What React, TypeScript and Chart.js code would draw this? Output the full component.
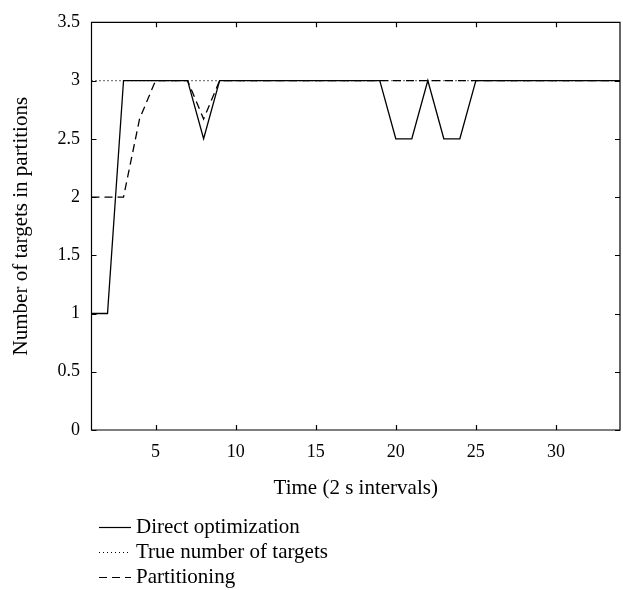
import React, { useEffect, useRef } from "react";
import { Chart, registerables } from "chart.js";

Chart.register(...registerables);

// Time steps (2 s intervals)
const timeSteps = [
  1, 2, 3, 4, 5, 6, 7, 8, 9, 10, 11, 12, 13, 14, 15, 16, 17,
  18, 19, 20, 21, 22, 23, 24, 25, 26, 27, 28, 29, 30, 31, 32, 33, 34,
];

const directOptimization = [
  1, 1, 3, 3, 3, 3, 3, 2.5, 3, 3, 3, 3, 3, 3, 3, 3, 3,
  3, 3, 2.5, 2.5, 3, 2.5, 2.5, 3, 3, 3, 3, 3, 3, 3, 3, 3, 3,
];

const trueNumberOfTargets = [
  3, 3, 3, 3, 3, 3, 3, 3, 3, 3, 3, 3, 3, 3, 3, 3, 3,
  3, 3, 3, 3, 3, 3, 3, 3, 3, 3, 3, 3, 3, 3, 3, 3, 3,
];

const partitioning = [
  2, 2, 2, 2.67, 3, 3, 3, 2.67, 3, 3, 3, 3, 3, 3, 3, 3, 3,
  3, 3, 3, 3, 3, 3, 3, 3, 3, 3, 3, 3, 3, 3, 3, 3, 3,
];

const xTicks = [5, 10, 15, 20, 25, 30];
const yTicks = [0, 0.5, 1, 1.5, 2, 2.5, 3, 3.5];

const seriesNames = ["Direct optimization", "True number of targets", "Partitioning"];

const FONT_FAMILY = '"Liberation Serif", "Times New Roman", serif';
const TICK_SIZE = 18;
const TEXT_SIZE = 21;

const toPoints = (ys: number[]) => timeSteps.map((x, i) => ({ x, y: ys[i] }));

// Box around the plot area with short inward tick marks on all four sides
const boxPlugin = {
  id: "boxAndInwardTicks",
  afterDatasetsDraw(chart: any) {
    const { ctx, chartArea } = chart;
    const { left, right, top, bottom } = chartArea;
    const xs = chart.scales.x;
    const ys = chart.scales.y;
    const len = 5;
    ctx.save();
    ctx.strokeStyle = "#000";
    ctx.lineWidth = 1.2;
    ctx.beginPath();
    ctx.rect(left, top, right - left, bottom - top);
    for (const t of xTicks) {
      const px = Math.round(xs.getPixelForValue(t)) + 0.5;
      ctx.moveTo(px, bottom);
      ctx.lineTo(px, bottom - len);
      ctx.moveTo(px, top);
      ctx.lineTo(px, top + len);
    }
    for (const t of yTicks) {
      const py = Math.round(ys.getPixelForValue(t)) + 0.5;
      ctx.moveTo(left, py);
      ctx.lineTo(left + len, py);
      ctx.moveTo(right, py);
      ctx.lineTo(right - len, py);
    }
    ctx.stroke();
    ctx.restore();
  },
};

// Vertical legend below the axis title
const legendPlugin = {
  id: "stackedLegend",
  afterDraw(chart: any) {
    const { ctx } = chart;
    const x0 = 99;
    const x1 = 131;
    const textX = 136;
    const rows = [527, 552, 577];
    ctx.save();
    ctx.font = `${TEXT_SIZE}px ${FONT_FAMILY}`;
    ctx.textBaseline = "middle";
    ctx.textAlign = "left";
    chart.data.datasets.forEach((ds: any, i: number) => {
      const y = rows[i] + 0.5;
      ctx.strokeStyle = "#000";
      ctx.lineWidth = 1.2;
      ctx.setLineDash(ds.borderDash || []);
      ctx.beginPath();
      ctx.moveTo(x0, y);
      ctx.lineTo(x1, y);
      ctx.stroke();
      ctx.setLineDash([]);
      ctx.fillStyle = "#000";
      ctx.fillText(ds.label, textX, rows[i]);
    });
    ctx.restore();
  },
};

export default function App() {
  const canvasRef = useRef<HTMLCanvasElement | null>(null);

  useEffect(() => {
    if (!canvasRef.current) return;
    const tickFont = { family: FONT_FAMILY, size: TICK_SIZE };
    const titleFont = { family: FONT_FAMILY, size: TEXT_SIZE };
    const chart = new Chart(canvasRef.current, {
      type: "line",
      data: {
        datasets: [
          {
            label: seriesNames[0],
            data: toPoints(directOptimization),
            borderColor: "#000",
            borderWidth: 1.3,
            pointRadius: 0,
            tension: 0,
          },
          {
            label: seriesNames[1],
            data: toPoints(trueNumberOfTargets),
            borderColor: "#000",
            borderWidth: 1.3,
            borderDash: [1, 3],
            pointRadius: 0,
            tension: 0,
          },
          {
            label: seriesNames[2],
            data: toPoints(partitioning),
            borderColor: "#000",
            borderWidth: 1.3,
            borderDash: [8, 5],
            pointRadius: 0,
            tension: 0,
          },
        ],
      },
      options: {
        animation: false,
        responsive: false,
        events: [],
        layout: { padding: { left: 0, top: 12.5, right: 3, bottom: 89.4 } },
        plugins: {
          legend: { display: false },
          tooltip: { enabled: false },
        },
        scales: {
          x: {
            type: "linear",
            min: 1,
            max: 34,
            grid: { display: false, drawTicks: false },
            border: { display: false },
            afterBuildTicks: (scale: any) => {
              scale.ticks = xTicks.map((v) => ({ value: v }));
            },
            afterFit: (scale: any) => {
              scale.height = 70.6;
            },
            ticks: {
              color: "#000",
              font: tickFont,
              padding: 11,
              maxRotation: 0,
              callback: (v: any) => String(v),
            },
            title: {
              display: true,
              text: "Time (2 s intervals)",
              color: "#000",
              font: titleFont,
              padding: 0,
            },
          },
          y: {
            type: "linear",
            min: 0,
            max: 3.5,
            grid: { display: false, drawTicks: false },
            border: { display: false },
            afterBuildTicks: (scale: any) => {
              scale.ticks = yTicks.map((v) => ({ value: v }));
            },
            afterFit: (scale: any) => {
              scale.width = 91.5;
            },
            ticks: {
              color: "#000",
              font: tickFont,
              padding: 11.5,
              callback: (v: any) => String(v),
            },
            title: {
              display: true,
              text: "Number of targets in partitions",
              color: "#000",
              font: titleFont,
              padding: { top: 8.4, bottom: 0 },
            },
          },
        },
      },
      plugins: [boxPlugin, legendPlugin],
    });
    return () => chart.destroy();
  }, []);

  return (
    <div style={{ position: "fixed", left: 0, top: 0, width: 623, height: 590, background: "#fff" }}>
      <canvas ref={canvasRef} width={623} height={590} style={{ display: "block" }} />
    </div>
  );
}
